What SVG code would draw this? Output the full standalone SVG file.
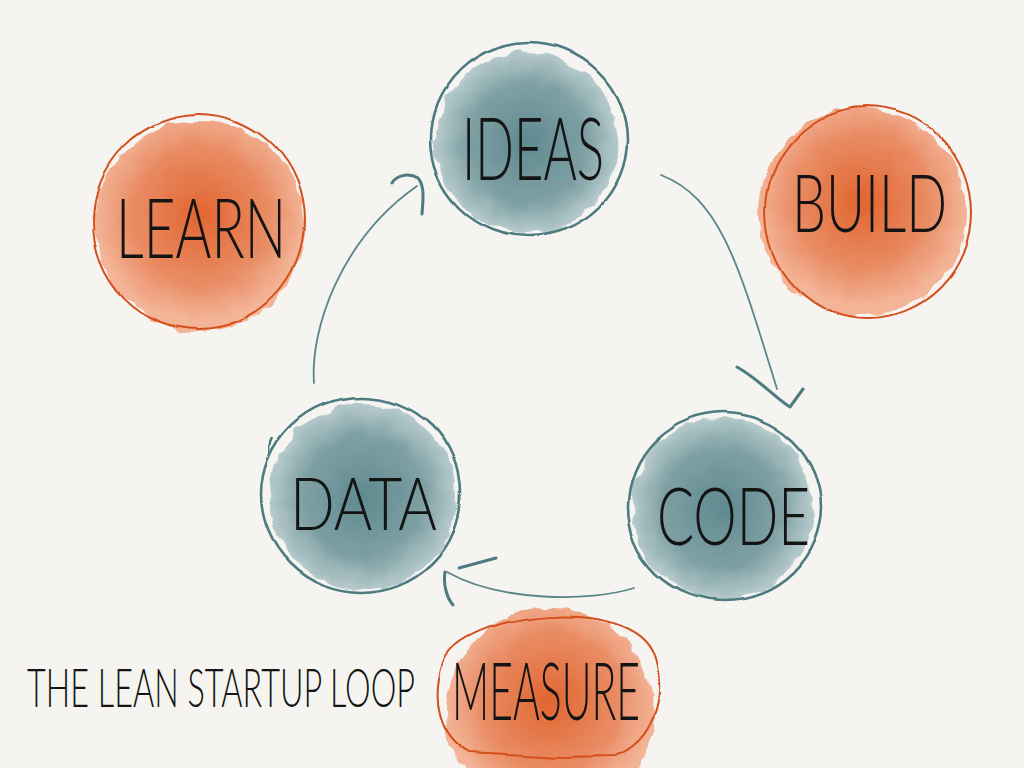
<svg xmlns="http://www.w3.org/2000/svg" width="1024" height="768" viewBox="0 0 1024 768">
<defs>
<radialGradient id="tealFill" cx="50%" cy="50%" r="50%">
<stop offset="0" stop-color="#5f8a8f"/>
<stop offset="0.65" stop-color="#7ea0a4"/>
<stop offset="1" stop-color="#b6cacc"/>
</radialGradient>
<radialGradient id="orangeFill" cx="50%" cy="45%" r="50%">
<stop offset="0" stop-color="#e1652f"/>
<stop offset="0.65" stop-color="#e98c64"/>
<stop offset="1" stop-color="#f3b497"/>
</radialGradient>
<filter id="rough" x="-20%" y="-20%" width="140%" height="140%">
<feTurbulence type="fractalNoise" baseFrequency="0.05" numOctaves="2" seed="3" result="n"/>
<feDisplacementMap in="SourceGraphic" in2="n" scale="12" xChannelSelector="R" yChannelSelector="G"/>
</filter>
<filter id="wobble" x="-10%" y="-10%" width="120%" height="120%">
<feTurbulence type="fractalNoise" baseFrequency="0.012" numOctaves="1" seed="7" result="n"/>
<feDisplacementMap in="SourceGraphic" in2="n" scale="9" xChannelSelector="R" yChannelSelector="G"/>
</filter>
<style>
.tealBlob{fill:url(#tealFill);filter:url(#rough)}
.orangeBlob{fill:url(#orangeFill);filter:url(#rough)}
.tealLine{fill:none;stroke:#4d7b80;stroke-width:2.6;filter:url(#wobble)}
.orangeLine{fill:none;stroke:#d4501b;stroke-width:2;filter:url(#wobble)}
.label{font-family:Lato,"Liberation Sans Narrow","Liberation Sans",sans-serif;font-weight:300;fill:#141414;text-anchor:start}
.conn{fill:none;stroke:#5b8589;stroke-width:1.8;stroke-linecap:round}
.head{fill:none;stroke:#4d7b80;stroke-width:3;stroke-linecap:round;stroke-linejoin:round}
</style>
</defs>
<rect width="1024" height="768" fill="#f5f4f1"/>

<g id="node-ideas">
<circle class="tealBlob" cx="527" cy="143" r="91"/>
<ellipse class="tealLine" cx="529" cy="139" rx="99" ry="96"/>
<text class="label" x="462" y="180" font-size="86" textLength="142" lengthAdjust="spacingAndGlyphs">IDEAS</text>
</g>

<g id="node-build">
<circle class="orangeBlob" cx="862" cy="212" r="104"/>
<ellipse class="orangeLine" cx="868" cy="213" rx="103" ry="106"/>
<text class="label" x="792" y="232" font-size="80" textLength="155" lengthAdjust="spacingAndGlyphs">BUILD</text>
</g>

<g id="node-code">
<circle class="tealBlob" cx="722" cy="508" r="91"/>
<ellipse class="tealLine" cx="724" cy="507" rx="97" ry="94"/>
<text class="label" x="657" y="545" font-size="80" textLength="153" lengthAdjust="spacingAndGlyphs">CODE</text>
</g>

<g id="node-data">
<circle class="tealBlob" cx="363" cy="497" r="93"/>
<ellipse class="tealLine" cx="361" cy="495" rx="100" ry="98"/>
<path class="tealLine" d="M272,437 C269,443 268,449 270,455"/>
<text class="label" x="290" y="530" font-size="72" textLength="147" lengthAdjust="spacingAndGlyphs">DATA</text>
</g>

<g id="node-learn">
<circle class="orangeBlob" cx="200" cy="226" r="105"/>
<ellipse class="orangeLine" cx="198" cy="222" rx="106" ry="107"/>
<text class="label" x="116" y="258" font-size="82" textLength="170" lengthAdjust="spacingAndGlyphs">LEARN</text>
</g>

<g id="node-measure">
<circle class="orangeBlob" cx="550" cy="712" r="104"/>
<path class="orangeLine" d="M444,662 C462,612 632,592 654,655 C668,698 652,742 615,756 L560,757 L470,752 C440,735 432,700 444,662 Z"/>
<text class="label" x="452" y="720" font-size="80" textLength="188" lengthAdjust="spacingAndGlyphs">MEASURE</text>
</g>

<g id="caption">
<text class="label" x="27" y="707" font-size="54" textLength="388" lengthAdjust="spacingAndGlyphs">THE LEAN STARTUP LOOP</text>
</g>

<g id="connectors">
<path class="conn" d="M661,175 C720,198 738,262 777,389"/>
<path class="head" d="M737,367 C760,380 775,398 790,407 L803,389"/>
<path class="conn" d="M634,588 C590,602 500,602 447,572"/>
<path class="head" d="M459,568 L496,558"/>
<path class="head" d="M445,572 C443,585 447,598 453,605"/>
<path class="conn" d="M314,383 C310,330 340,240 417,186"/>
<path class="head" d="M392,183 C396,176 408,172 418,178 C425,186 423,200 422,214"/>
</g>
</svg>
